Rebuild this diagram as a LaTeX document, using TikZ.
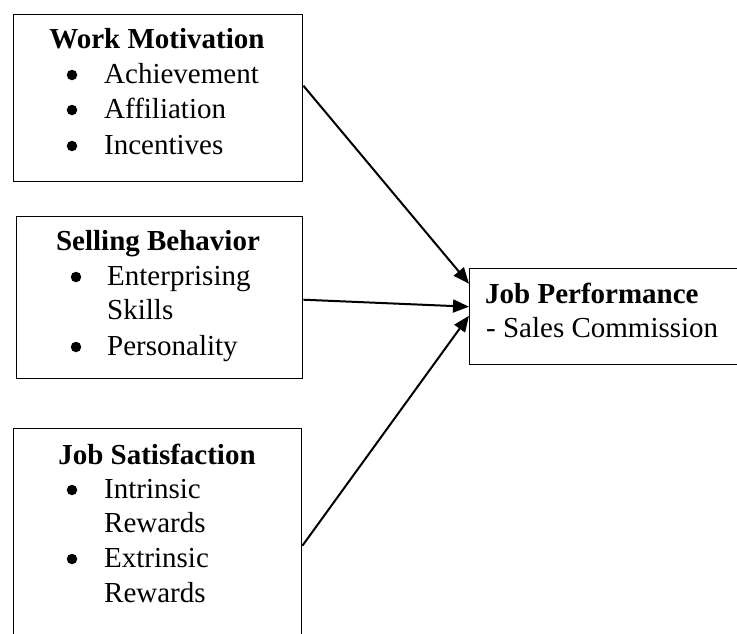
\documentclass[tikz,border=0pt]{standalone}
\usepackage{fontspec}
\setmainfont{Liberation Serif}
\usetikzlibrary{arrows.meta}
\begin{document}
\begin{tikzpicture}[x=1pt,y=-1pt,
  box/.style={draw,line width=1.4pt,inner sep=0pt,anchor=north west},
  txt/.style={font=\fontsize{29}{35}\selectfont,inner sep=0pt,anchor=base west},
  ttl/.style={font=\fontsize{29}{35}\selectfont\bfseries,inner sep=0pt,anchor=base},
  bul/.style={circle,fill=black,inner sep=0pt,minimum size=10.5pt},
  arr/.style={line width=2pt,-{Triangle[length=16pt,width=13pt]}}]
\clip (0,0) rectangle (737,633);
\fill[white] (0,0) rectangle (737,633);
% boxes
\node[box,minimum width=289pt,minimum height=167pt] (wm) at (13,14) {};
\node[box,minimum width=286pt,minimum height=162pt] (sb) at (16,216) {};
\node[box,minimum width=288pt,minimum height=240pt] (js) at (13,428) {};
\node[box,minimum width=300pt,minimum height=96pt] (jp) at (469,268) {};
% Work Motivation
\node[ttl] (wmt) at (157,48) {Work Motivation};
\node[bul] (wmb1) at (72,75) {};
\node[txt] (wm1) at (104,83) {Achievement};
\node[bul] (wmb2) at (72,110) {};
\node[txt] (wm2) at (104,118) {Affiliation};
\node[bul] (wmb3) at (72,146) {};
\node[txt] (wm3) at (104,154) {Incentives};
% Selling Behavior
\node[ttl] (sbt) at (158,250) {Selling Behavior};
\node[bul] (sbb1) at (76,277) {};
\node[txt] (sb1) at (107,285) {Enterprising};
\node[txt] (sb1b) at (107,319) {Skills};
\node[bul] (sbb2) at (76,347) {};
\node[txt] (sb2) at (107,355) {Personality};
% Job Satisfaction
\node[ttl] (jst) at (157,464) {Job Satisfaction};
\node[bul] (jsb1) at (72,490) {};
\node[txt] (js1) at (104,498) {Intrinsic};
\node[txt] (js1b) at (104,532) {Rewards};
\node[bul] (jsb2) at (72,559) {};
\node[txt] (js2) at (104,567) {Extrinsic};
\node[txt] (js2b) at (104,602) {Rewards};
% Job Performance
\node[txt,font=\fontsize{29}{35}\selectfont\bfseries] (jpt) at (485,303) {Job Performance};
\node[txt] (jp1) at (486,337) {- Sales Commission};
% arrows
\draw[arr] ([yshift=12.5pt]wm.east) -- ([yshift=33pt]jp.west);
\draw[arr] ([yshift=-2pt]sb.east) -- ([yshift=10pt]jp.west);
\draw[arr] ([yshift=3pt]js.east) -- ([yshift=1pt]jp.west);
\end{tikzpicture}
\end{document}
